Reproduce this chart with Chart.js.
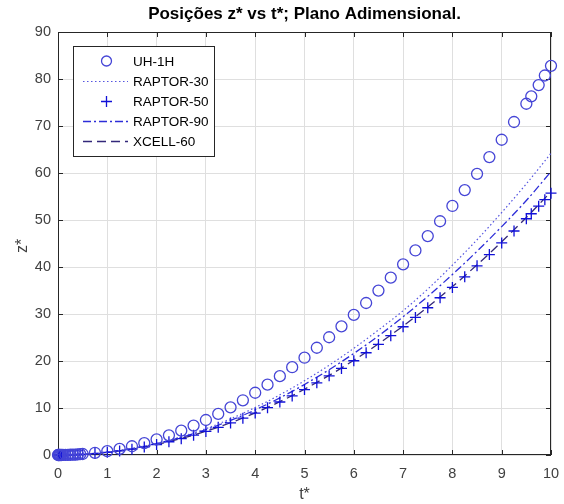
<!DOCTYPE html>
<html>
<head>
<meta charset="utf-8">
<script src="https://cdn.jsdelivr.net/npm/chart.js@4/dist/chart.umd.min.js"></script>
<style>
html,body{margin:0;padding:0;background:#fff;}
#wrap{width:564px;height:504px;}
</style>
</head>
<body>
<div id="wrap"><canvas id="c" width="564" height="504"></canvas></div>
<script>
// ---- data ----
const titleText = 'Posições z* vs t*; Plano Adimensional.';
const xLabel = 't*';
const yLabel = 'z*';
const seriesNames = ['UH-1H', 'RAPTOR-30', 'RAPTOR-50', 'RAPTOR-90', 'XCELL-60'];

const tMarkers = [0, 0.01, 0.02, 0.03, 0.05, 0.07, 0.1, 0.15, 0.2, 0.25, 0.3, 0.35, 0.4, 0.45, 0.5,
  0.75, 1, 1.25, 1.5, 1.75, 2, 2.25, 2.5, 2.75, 3, 3.25, 3.5, 3.75, 4, 4.25, 4.5, 4.75, 5,
  5.25, 5.5, 5.75, 6, 6.25, 6.5, 6.75, 7, 7.25, 7.5, 7.75, 8, 8.25, 8.5, 8.75, 9, 9.25, 9.5,
  9.6, 9.75, 9.875, 10];

const zUH1H = [0, 0, 0, 0, 0, 0, 0.01, 0.02, 0.03, 0.05, 0.07, 0.1, 0.13, 0.17, 0.21,
  0.47, 0.83, 1.29, 1.86, 2.54, 3.31, 4.19, 5.18, 6.26, 7.45, 8.75, 10.14, 11.64, 13.25, 14.96, 16.77, 18.68, 20.7,
  22.82, 25.05, 27.38, 29.81, 32.34, 34.98, 37.73, 40.57, 43.52, 46.58, 49.73, 52.99, 56.36, 59.82, 63.39, 67.07, 70.85, 74.73,
  76.31, 78.71, 80.74, 82.8];

const zRaptor50 = [0, 0, 0, 0, 0, 0, 0.01, 0.01, 0.02, 0.03, 0.05, 0.07, 0.09, 0.11, 0.14,
  0.31, 0.56, 0.87, 1.25, 1.71, 2.23, 2.82, 3.48, 4.21, 5.01, 5.88, 6.82, 7.83, 8.91, 10.06, 11.28, 12.57, 13.93,
  15.35, 16.85, 18.42, 20.05, 21.76, 23.53, 25.38, 27.29, 29.28, 31.33, 33.46, 35.65, 37.91, 40.24, 42.64, 45.12, 47.66, 50.27,
  51.33, 52.95, 54.32, 55.7];

const tLine = [0, 0.5, 1, 1.5, 2, 2.5, 3, 3.5, 4, 4.5, 5, 5.5, 6, 6.5, 7, 7.5, 8, 8.5, 9, 9.5, 10];
const zRaptor30 = [0, 0.15, 0.6, 1.4, 2.5, 3.9, 5.6, 7.7, 10.1, 12.8, 15.8, 19.1, 22.7, 26.6, 30.7, 35.3, 40.4, 45.8, 51.6, 57.7, 64.2];
const zRaptor90 = [0, 0.15, 0.6, 1.35, 2.4, 3.75, 5.4, 7.35, 9.6, 12.15, 15.0, 18.15, 21.6, 25.35, 29.4, 33.75, 38.4, 43.35, 48.6, 54.15, 60.3];
const zXcell60 = [0, 0.14, 0.56, 1.26, 2.24, 3.5, 5.04, 6.86, 8.96, 11.34, 14.0, 16.94, 20.16, 23.66, 27.44, 31.5, 35.84, 40.46, 45.36, 50.54, 56.0];

const xTicks = [0, 1, 2, 3, 4, 5, 6, 7, 8, 9, 10];
const yTicks = [0, 10, 20, 30, 40, 50, 60, 70, 80, 90];

// ---- build datasets ----
const pts = (xs, ys) => xs.map((x, i) => ({x: x, y: ys[i]}));
const FONT = '"Liberation Sans", Arial, Helvetica, sans-serif';
const AXIS_COL = '#262626';
const TXT_COL = '#404040';

const datasets = [
  {label: seriesNames[0], data: pts(tMarkers, zUH1H), showLine: false, pointStyle: 'circle',
   pointRadius: 5.5, borderColor: '#4545d6', backgroundColor: 'rgba(0,0,0,0)', pointBorderWidth: 1.3, clip: false, kind: 'circle'},
  {label: seriesNames[1], data: pts(tLine, zRaptor30), showLine: true, pointRadius: 0, borderColor: '#5555e0',
   borderWidth: 1.2, borderDash: [1.5, 2.5], cubicInterpolationMode: 'monotone', kind: 'line'},
  {label: seriesNames[2], data: pts(tMarkers, zRaptor50), showLine: false, pointStyle: 'cross',
   pointRadius: 5.5, borderColor: '#1010d8', backgroundColor: '#1010d8', pointBorderWidth: 1.3, clip: false, kind: 'cross'},
  {label: seriesNames[3], data: pts(tLine, zRaptor90), showLine: true, pointRadius: 0, borderColor: '#2d2dd8',
   borderWidth: 1.3, borderDash: [8, 3, 2, 3], cubicInterpolationMode: 'monotone', kind: 'line'},
  {label: seriesNames[4], data: pts(tLine, zXcell60), showLine: true, pointRadius: 0, borderColor: '#33287a',
   borderWidth: 1.3, borderDash: [9, 5], cubicInterpolationMode: 'monotone', kind: 'line'}
];

// ---- frame, inward ticks, titles, legend ----
const framePlugin = {
  id: 'frame',
  beforeDatasetsDraw(chart) {
    const {ctx, chartArea: a, scales} = chart;
    ctx.save();
    ctx.strokeStyle = AXIS_COL;
    ctx.lineWidth = 1;
    ctx.strokeRect(Math.round(a.left) + 0.5, Math.round(a.top) + 0.5,
      Math.round(a.right - a.left) - 1, Math.round(a.bottom - a.top) - 1);
    const tl = 5;
    ctx.beginPath();
    xTicks.forEach(v => {
      const x = Math.round(scales.x.getPixelForValue(v)) + 0.5;
      ctx.moveTo(x, a.bottom); ctx.lineTo(x, a.bottom - tl);
      ctx.moveTo(x, a.top); ctx.lineTo(x, a.top + tl);
    });
    yTicks.forEach(v => {
      const y = Math.round(scales.y.getPixelForValue(v)) + 0.5;
      ctx.moveTo(a.left, y); ctx.lineTo(a.left + tl, y);
      ctx.moveTo(a.right, y); ctx.lineTo(a.right - tl, y);
    });
    ctx.stroke();
    ctx.restore();
  },
  afterDraw(chart) {
    const {ctx, chartArea: a} = chart;
    ctx.save();
    // title
    ctx.fillStyle = '#000';
    ctx.font = 'bold 17px ' + FONT;
    ctx.textAlign = 'center';
    ctx.textBaseline = 'middle';
    ctx.fillText(titleText, (a.left + a.right) / 2, 14);
    // axis titles
    ctx.fillStyle = TXT_COL;
    ctx.font = '16px ' + FONT;
    ctx.fillText(xLabel, (a.left + a.right) / 2, 495);
    ctx.save();
    ctx.translate(23, 246);
    ctx.rotate(-Math.PI / 2);
    ctx.fillText(yLabel, 0, 0);
    ctx.restore();
    // legend
    const lx = 73, ly = 46, lw = 141, lh = 110;
    ctx.fillStyle = '#fff';
    ctx.fillRect(lx, ly, lw, lh);
    ctx.strokeStyle = AXIS_COL;
    ctx.lineWidth = 1;
    ctx.strokeRect(lx + 0.5, ly + 0.5, lw, lh);
    const rowY = [61, 81.5, 101.5, 121.5, 141.5];
    ctx.font = '13.5px ' + FONT;
    ctx.textAlign = 'left';
    chart.data.datasets.forEach((ds, i) => {
      const y = rowY[i];
      ctx.save();
      ctx.strokeStyle = ds.borderColor;
      if (ds.kind === 'circle') {
        ctx.lineWidth = ds.pointBorderWidth;
        ctx.beginPath(); ctx.arc(106.5, y, 5, 0, Math.PI * 2); ctx.stroke();
      } else if (ds.kind === 'cross') {
        ctx.lineWidth = ds.pointBorderWidth;
        const r = ds.pointRadius;
        ctx.beginPath();
        ctx.moveTo(106.5 - r, y); ctx.lineTo(106.5 + r, y);
        ctx.moveTo(106.5, y - r); ctx.lineTo(106.5, y + r);
        ctx.stroke();
      } else {
        ctx.lineWidth = ds.borderWidth;
        ctx.setLineDash(ds.borderDash);
        ctx.beginPath(); ctx.moveTo(83, y); ctx.lineTo(128, y); ctx.stroke();
      }
      ctx.restore();
      ctx.fillStyle = '#000';
      ctx.fillText(ds.label, 133, y + 1);
    });
    ctx.restore();
  }
};

new Chart(document.getElementById('c'), {
  type: 'scatter',
  data: {datasets: datasets},
  options: {
    responsive: false,
    animation: false,
    devicePixelRatio: 1,
    layout: {padding: {top: 32, right: 13, left: 0, bottom: 0}},
    plugins: {legend: {display: false}, tooltip: {enabled: false}, title: {display: false}},
    scales: {
      x: {
        type: 'linear', min: 0, max: 10,
        afterFit(s) { s.height = 49; s.paddingLeft = 0; s.paddingRight = 0; },
        afterBuildTicks(s) { s.ticks = xTicks.map(v => ({value: v})); },
        ticks: {color: TXT_COL, font: {family: FONT, size: 14.5}, padding: 10, maxRotation: 0, autoSkip: false},
        grid: {color: '#dfdfdf', lineWidth: 1, drawTicks: false},
        border: {display: false}
      },
      y: {
        type: 'linear', min: 0, max: 90,
        afterFit(s) { s.width = 58; s.paddingTop = 0; s.paddingBottom = 0; },
        afterBuildTicks(s) { s.ticks = yTicks.map(v => ({value: v})); },
        ticks: {color: TXT_COL, font: {family: FONT, size: 14.5}, padding: 7, autoSkip: false},
        grid: {color: '#dfdfdf', lineWidth: 1, drawTicks: false},
        border: {display: false}
      }
    }
  },
  plugins: [framePlugin]
});
</script>
</body>
</html>
